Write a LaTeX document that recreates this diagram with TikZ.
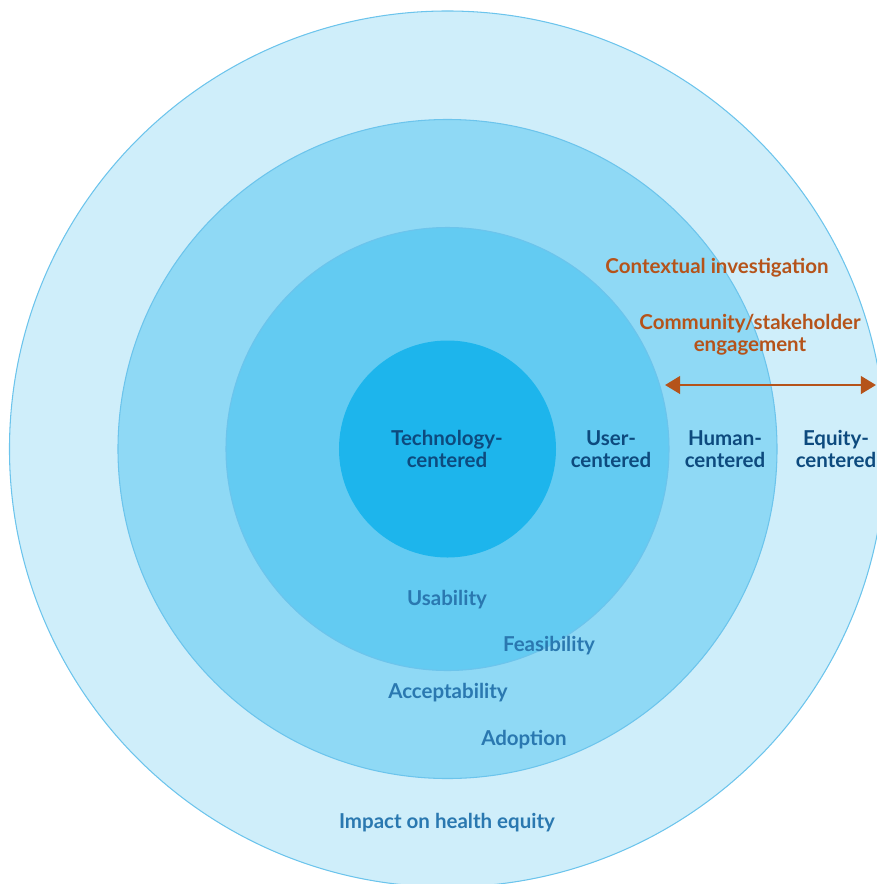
\documentclass[tikz,border=0pt]{standalone}
\usepackage{fontspec}
\setmainfont{Lato}
\usetikzlibrary{arrows.meta,positioning}
\definecolor{ringline}{HTML}{6CC4EC}
\definecolor{ringA}{HTML}{CFEEFA}
\definecolor{ringB}{HTML}{8FD9F5}
\definecolor{ringC}{HTML}{63CBF2}
\definecolor{ringD}{HTML}{1DB5EC}
\definecolor{navy}{HTML}{0D4A7E}
\definecolor{midblue}{HTML}{2A78B0}
\definecolor{rust}{HTML}{B5531A}
\tikzset{
    ring/.style = {
        draw = ringline,
        circle,
        line width = 0.9pt,
        inner sep = 0pt,
        },
    level/.style = {
        text = navy,
        align = center,
        font = \fontsize{17.5}{18.7}\selectfont\bfseries,
        },
    outcome/.style = {
        text = midblue,
        font = \fontsize{17.5}{18.7}\selectfont\bfseries,
        },
    practice/.style = {
        text = rust,
        align = center,
        font = \fontsize{17.5}{18.7}\selectfont\bfseries,
        },
}

\begin{document}
\begin{tikzpicture}[x=0.03cm, y=-0.03cm]
            \useasboundingbox (0,0) rectangle (877,884);
            \coordinate (c) at (447.5,449);
            \node[ring, fill=ringA, minimum size=26.28cm] (equity) at (c) {};
            \node[ring, fill=ringB, minimum size=19.77cm] (human) at (c) {};
            \node[ring, fill=ringC, minimum size=13.29cm] (user) at (c) {};
            \node[ring, fill=ringD, draw=none, minimum size=6.51cm] (tech) at (c) {};

            \node[level] (techlbl) at (447,449) {Technology-\\centered};
            \node[level] (userlbl) at (611,449) {User-\\centered};
            \node[level] (humanlbl) at (725,449) {Human-\\centered};
            \node[level] (equitylbl) at (836,449) {Equity-\\centered};

            \node[practice] (context) at (717,268) {Contextual investigation};
            \node[practice] (community) at (750,335) {Community/stakeholder\\engagement};

            \node[outcome] (usability) at (447,600) {Usability};
            \node[outcome] (feasibility) at (549,646) {Feasibility};
            \node[outcome] (acceptability) at (448,693) {Acceptability};
            \node[outcome] (adoption) at (524,740) {Adoption};
            \node[outcome] (impact) at (447,823) {Impact on health equity};

            \coordinate (arrleft) at (665,385);
            \coordinate (arrright) at (876,385);
            \draw[rust, line width=2.5pt, {Triangle[length=13pt,width=15pt]}-{Triangle[length=13pt,width=15pt]}] (arrleft) -- (arrright);
        \end{tikzpicture}
\end{document}
